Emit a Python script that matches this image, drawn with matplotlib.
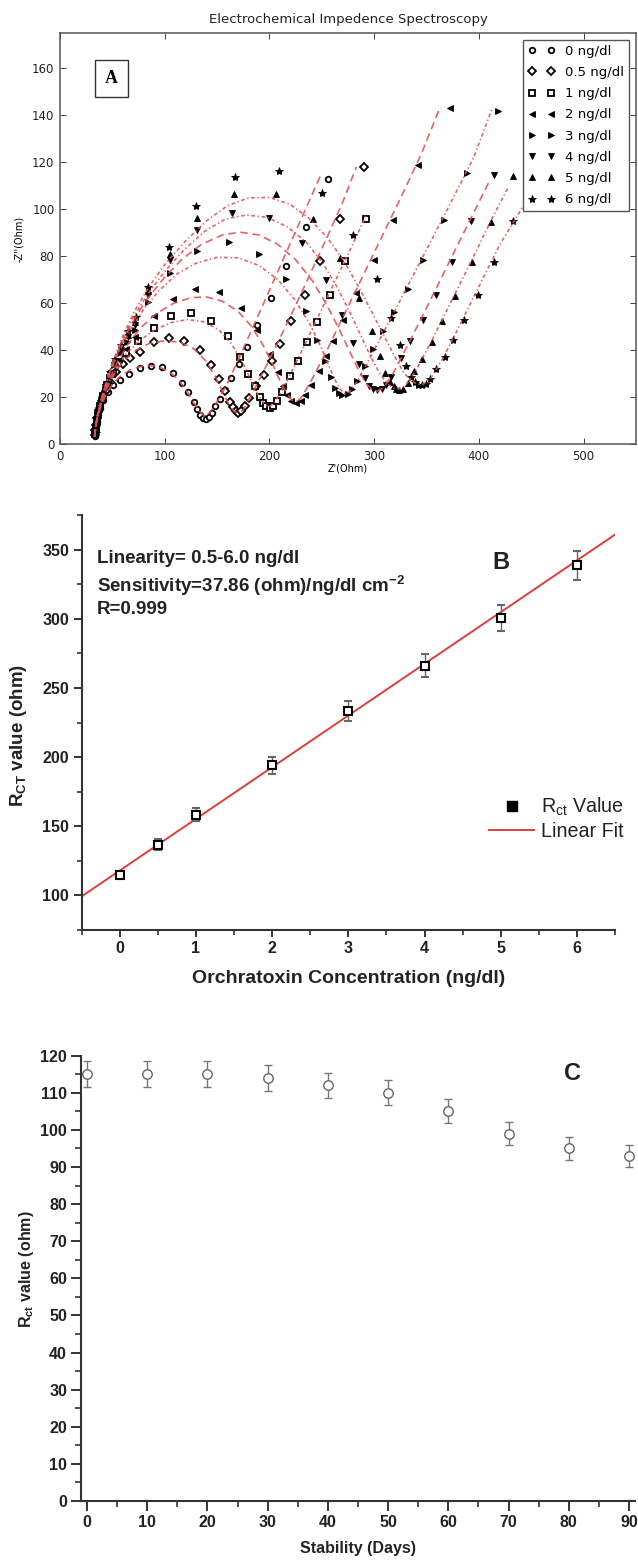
import numpy as np
import matplotlib
matplotlib.use('Agg')
import matplotlib.pyplot as plt
from matplotlib.lines import Line2D
from matplotlib.ticker import MultipleLocator

plt.rcParams['mathtext.fontset'] = 'custom'
plt.rcParams['mathtext.rm'] = 'Liberation Sans'
plt.rcParams['mathtext.bf'] = 'Liberation Sans:bold'
plt.rcParams['mathtext.it'] = 'Liberation Sans:italic'

# ---------------- Panel A data (Nyquist) ----------------
labels_A = ['0 ng/dl', '0.5 ng/dl', '1 ng/dl', '2 ng/dl', '3 ng/dl', '4 ng/dl', '5 ng/dl', '6 ng/dl']

zre_0 = [33.2, 33.6, 34.2, 35.2, 36.6, 38.6, 41.5, 45.5, 50.5, 57, 66, 76, 86.5, 97.5, 107.5, 116.5, 122.5, 128, 131, 134,
         136.8, 139.5, 142.3, 145, 148.2, 153, 158, 163.5, 171, 179, 188.5, 201, 216, 235, 256]
zim_0 = [3.5, 5.2, 7.2, 9.5, 12.2, 15.2, 18.6, 22, 25.3, 27.3, 29.8, 32.2, 33.4, 32.6, 30.1, 26, 22, 17.8, 14.8, 12.5,
         11.1, 10.8, 11.6, 13.3, 16, 19.3, 23, 28.2, 34, 41.5, 50.5, 62, 76, 92.5, 112.8]

zre_05 = [33.3, 33.8, 34.6, 35.8, 37.5, 40, 43.5, 48, 53.5, 60, 67, 76, 90, 104, 118.5, 134, 144, 152, 157.5, 162,
          165, 167.6, 170.3, 173.3, 176.2, 180.5, 187, 195, 202, 210.5, 221, 233.5, 248, 267, 290]
zim_05 = [3.8, 5.8, 8.2, 11, 14.5, 18.3, 22.5, 26.5, 30.5, 34, 36.5, 39, 43.4, 45, 44, 40, 33.6, 27.6, 22.5, 18,
          15.7, 14, 13.3, 14, 16, 19.5, 24.5, 29.5, 35.5, 42.5, 52.3, 63.6, 78, 95.8, 118]

zre_1 = [33.4, 34.0, 34.9, 36.2, 38.2, 41.0, 44.8, 49.5, 55.5, 63.0, 74.3, 89.6, 105.6, 125.4, 144.2, 160.1, 171.6, 179.9,
         186.0, 191.0, 194.0, 197.0, 200.3, 203.5, 207.0, 212.0, 220.0, 227.4, 236.0, 245.6, 257.9, 272.0, 292.0]
zim_1 = [4.1, 6.5, 9.2, 12.4, 16.2, 20.5, 25.3, 30.0, 34.5, 38.8, 43.9, 49.6, 54.4, 55.8, 52.3, 45.9, 37.1, 30.0,
         24.5, 20.0, 17.5, 16.0, 15.4, 16.2, 18.3, 22.0, 28.9, 35.3, 43.3, 51.9, 63.6, 77.8, 95.8]

zre_2 = [33.5, 34.1, 35.0, 36.4, 38.5, 41.5, 45.5, 50.5, 56.5, 63.0, 72.0, 89.3, 107.8, 128.5, 151.5, 172.6, 188.5, 200.6,
         207.7, 213.0, 217.0, 221.0, 224.9, 229.7, 234.4, 240.0, 247.0, 254.0, 261.0, 270.0, 283.0, 299.4, 317.9, 341.8, 372.6]
zim_2 = [4.3, 6.8, 9.7, 13.0, 17.0, 21.5, 26.3, 31.0, 35.8, 40.3, 45.5, 54.6, 61.9, 65.8, 64.8, 58.1, 48.5, 38.5,
         30.5, 24.5, 20.8, 18.3, 17.3, 18.2, 20.8, 25.2, 31.0, 37.5, 44.0, 53.0, 64.5, 78.2, 95.5, 118.8, 143.1]

zre_3 = [33.6, 34.3, 35.4, 37.0, 39.3, 42.5, 46.5, 51.5, 57.0, 63.5, 72.0, 84.5, 105.3, 131.0, 161.0, 190.4, 216.0, 235.0,
         245.6, 253.0, 258.5, 263.0, 266.5, 269.7, 275.4, 279.2, 284.0, 291.0, 299.0, 308.0, 319.0, 332.0, 346.6, 366.3,
         388.6, 418.2]
zim_3 = [4.5, 7.2, 10.4, 14.2, 18.6, 23.4, 28.5, 33.8, 38.8, 43.5, 48.5, 60.5, 72.6, 82.2, 85.9, 81.1, 70.4, 56.7,
         44.2, 35.5, 28.5, 23.8, 21.6, 20.9, 21.5, 23.3, 27.0, 33.0, 40.5, 48.0, 56.0, 66.0, 78.5, 95.5, 115.3, 141.7]

zre_4 = [33.7, 34.4, 35.6, 37.3, 39.8, 43.1, 47.3, 52.3, 58.3, 65.0, 72.0, 84.5, 105.4, 130.8, 164.3, 199.7, 230.7, 254.0,
         269.0, 279.5, 285.9, 291.0, 295.5, 299.0, 302.6, 307.0, 311.0, 316.0, 325.8, 334.4, 346.2, 358.9, 374.2, 392.7, 414.0]
zim_4 = [4.6, 7.5, 10.8, 14.8, 19.4, 24.3, 29.4, 34.6, 40.0, 45.5, 50.5, 63.5, 78.2, 91.3, 98.4, 96.4, 85.6, 69.8,
         55.0, 43.1, 33.9, 28.0, 24.8, 23.3, 22.9, 23.3, 25.0, 28.5, 36.8, 43.8, 53.0, 63.6, 77.5, 95.0, 114.6]

zre_5 = [33.8, 34.5, 35.7, 37.4, 40.0, 43.3, 47.5, 52.5, 58.5, 65.0, 72.0, 84.0, 105.4, 130.8, 166.5, 206.0, 241.5, 267.6,
         285.9, 297.7, 305.7, 310.5, 315.0, 318.5, 321.0, 324.0, 327.5, 332.0, 338.3, 346.0, 354.9, 365.1, 377.2, 393.1,
         411.6, 432.4]
zim_5 = [4.7, 7.7, 11.1, 15.1, 19.8, 24.8, 30.0, 35.3, 40.8, 46.5, 52.0, 65.0, 81.0, 96.2, 106.3, 106.3, 96.0, 79.2,
         62.2, 48.1, 37.5, 30.4, 26.5, 24.5, 23.6, 23.1, 23.6, 25.8, 31.1, 36.4, 43.4, 52.3, 63.2, 77.5, 94.5, 114.3]

zre_6 = [33.9, 34.6, 35.8, 37.6, 40.2, 43.5, 47.7, 52.7, 58.7, 65.3, 72.3, 84.0, 103.8, 129.8, 167.1, 209.0, 249.8, 280.2,
         302.6, 316.2, 324.5, 330.0, 335.0, 338.5, 342.0, 345.5, 349.5, 353.5, 359.2, 367.2, 375.7, 386.0, 399.0, 414.0, 432.4]
zim_6 = [4.8, 7.9, 11.4, 15.5, 20.2, 25.3, 30.7, 36.2, 42.0, 48.0, 54.0, 67.0, 84.0, 101.2, 113.8, 116.2, 106.9, 89.1,
         70.3, 53.7, 42.0, 33.2, 28.5, 26.3, 25.3, 25.0, 25.5, 27.5, 31.8, 37.0, 44.1, 53.0, 63.6, 77.5, 94.8]

# fitted curves
fit_x_0 = [33.0, 34.0, 36.0, 39.0, 44.0, 50.0, 58.0, 68.0, 80.0, 92.0, 103.0, 113.0, 121.0, 128.0, 134.0, 139.0, 145.0,
           152.0, 160.0, 175.0, 190.0, 205.0, 220.0, 235.0, 250.0]
fit_y_0 = [3.0, 7.0, 11.5, 16.0, 21.0, 25.5, 29.0, 31.8, 33.3, 33.2, 31.2, 27.5, 22.5, 17.5, 13.5, 11.5, 14.5,
           19.5, 26.0, 40.5, 55.5, 70.5, 85.5, 100.5, 115.5]
fit_x_05 = [33.0, 34.0, 36.0, 39.5, 45.0, 52.0, 61.0, 72.0, 85.0, 100.0, 115.0, 128.0, 139.0, 148.0, 155.0, 161.0, 166.0,
            170.0, 175.0, 183.0, 195.0, 210.0, 225.0, 240.0, 255.0, 270.0, 283.0]
fit_y_05 = [3.0, 7.5, 12.0, 17.5, 24.0, 30.0, 35.5, 39.8, 42.8, 44.0, 43.3, 40.5, 35.5, 29.0, 22.5, 17.0, 14.0,
            13.0, 14.5, 21.0, 31.5, 45.0, 59.0, 73.5, 88.0, 103.0, 118.0]
fit_x_1 = [33.0, 34.0, 36.2, 40.0, 46.0, 54.0, 64.0, 76.0, 90.0, 106.0, 122.0, 138.0, 152.0, 164.0, 174.0, 182.0, 189.0,
           195.0, 199.0, 204.0, 212.0, 222.0, 235.0, 250.0, 265.0, 280.0, 292.0]
fit_y_1 = [3.0, 7.5, 12.3, 18.5, 25.5, 32.5, 38.8, 44.0, 48.5, 51.7, 53.0, 52.0, 48.5, 42.5, 35.0, 27.5, 21.0,
           17.0, 15.8, 17.0, 23.0, 31.5, 43.5, 57.5, 71.5, 85.5, 97.0]
fit_x_2 = [33.0, 34.2, 36.5, 40.5, 47.0, 55.0, 65.0, 77.0, 92.0, 108.0, 125.0, 140.0, 155.0, 170.0, 183.0, 194.0, 203.0,
           210.0, 216.0, 221.0, 225.0, 230.0, 240.0, 255.0, 275.0, 300.0, 325.0, 345.0, 362.9]
fit_y_2 = [3.0, 8.0, 13.0, 19.5, 27.5, 35.0, 42.5, 49.5, 55.5, 59.8, 62.3, 62.6, 60.8, 56.5, 50.0, 42.0, 34.0,
           27.0, 22.0, 18.8, 17.8, 19.5, 27.0, 40.0, 58.5, 81.5, 104.5, 123.5, 143.3]
fit_x_3 = [33.0, 34.3, 36.8, 41.0, 47.5, 56.0, 67.0, 80.0, 95.0, 112.0, 130.0, 150.0, 170.0, 190.0, 208.0, 224.0, 238.0,
           249.0, 257.0, 263.0, 268.0, 272.0, 277.0, 285.0, 300.0, 320.0, 345.0, 370.0, 395.0, 412.3]
fit_y_3 = [3.0, 8.3, 14.0, 21.0, 30.0, 39.0, 48.5, 57.5, 65.5, 72.5, 77.0, 79.5, 79.3, 76.0, 70.0, 61.5, 51.5,
           41.5, 33.0, 27.0, 23.0, 21.5, 22.5, 27.5, 40.0, 57.0, 78.5, 100.0, 122.0, 142.4]
fit_x_4 = [33.0, 34.4, 37.0, 41.5, 48.0, 57.0, 68.0, 82.0, 98.0, 116.0, 135.0, 155.0, 172.0, 190.0, 208.0, 225.0, 241.0,
           255.0, 267.0, 277.0, 285.0, 292.0, 298.0, 303.0, 309.0, 318.0, 332.0, 350.0, 370.0, 390.0, 409.0]
fit_y_4 = [3.0, 8.6, 14.5, 22.0, 31.0, 41.0, 51.0, 61.0, 70.0, 78.5, 85.0, 89.0, 90.2, 89.0, 85.0, 78.5, 69.5,
           59.0, 48.5, 39.0, 31.5, 26.0, 23.0, 22.5, 24.0, 30.0, 42.0, 58.0, 76.0, 94.0, 111.0]
fit_x_5 = [33.0, 34.5, 37.2, 42.0, 48.8, 58.0, 70.0, 84.0, 100.0, 118.0, 138.0, 158.0, 178.0, 198.0, 217.0, 235.0, 251.0,
           265.0, 278.0, 289.0, 298.0, 306.0, 313.0, 319.0, 325.0, 331.0, 340.0, 355.0, 375.0, 395.0, 412.0, 428.3]
fit_y_5 = [3.0, 8.8, 15.0, 23.0, 32.5, 43.0, 54.0, 64.0, 73.5, 82.5, 90.5, 95.8, 97.5, 96.5, 92.5, 86.0, 77.0,
           66.5, 55.0, 44.5, 36.0, 29.5, 25.5, 23.7, 23.5, 25.5, 31.5, 44.0, 62.0, 80.0, 95.5, 109.6]
fit_x_6 = [33.0, 34.6, 37.4, 42.4, 49.5, 59.0, 71.0, 85.0, 101.0, 120.0, 140.0, 160.0, 180.0, 200.0, 220.0, 238.0, 255.0,
           271.0, 285.0, 298.0, 310.0, 320.0, 328.0, 335.0, 341.0, 347.0, 354.0, 365.0, 380.0, 400.0, 420.0, 442.0]
fit_y_6 = [3.0, 9.0, 15.4, 23.8, 33.8, 45.0, 56.5, 67.0, 77.0, 86.5, 95.0, 101.5, 104.8, 105.0, 102.0, 96.0, 88.0,
           78.0, 67.0, 56.0, 45.5, 37.0, 30.5, 27.0, 25.5, 25.5, 28.0, 36.0, 49.0, 67.0, 85.0, 101.0]

# ---------------- Panel B data ----------------
conc = [0, 0.5, 1, 2, 3, 4, 5, 6]
rct_B = [114.5, 136.8, 158.3, 194.0, 233.5, 266.1, 300.5, 338.7]
rct_B_err = [2.5, 3.9, 4.8, 6.3, 7.4, 8.3, 9.2, 10.5]
fit_slope_B = 37.36
fit_intercept_B = 118.0
text_B = ['Linearity= 0.5-6.0 ng/dl',
          r'Sensitivity=37.86 (ohm)/ng/dl cm$^{\mathbf{-2}}$',
          'R=0.999']

# ---------------- Panel C data ----------------
days = [0, 10, 20, 30, 40, 50, 60, 70, 80, 90]
rct_C = [115, 115, 115, 114, 112, 110, 105, 99, 95, 93]
rct_C_err = [3.5, 3.5, 3.5, 3.5, 3.45, 3.4, 3.2, 3.1, 3.0, 2.9]

# ======================================================
W, H = 638, 1562
fig = plt.figure(figsize=(W / 100, H / 100), dpi=100)


def ax_rect(l, t, r, b):
    return [l / W, 1 - b / H, (r - l) / W, (b - t) / H]


# ---------------- Panel A ----------------
axA = fig.add_axes(ax_rect(60, 33, 636, 444))
series = [
    (zre_0, zim_0, 'o', False, fit_x_0, fit_y_0, 'dash'),
    (zre_05, zim_05, 'D', False, fit_x_05, fit_y_05, 'dash'),
    (zre_1, zim_1, 's', False, fit_x_1, fit_y_1, 'dashdot'),
    (zre_2, zim_2, '<', True, fit_x_2, fit_y_2, 'dash'),
    (zre_3, zim_3, '>', True, fit_x_3, fit_y_3, 'dashdot'),
    (zre_4, zim_4, 'v', True, fit_x_4, fit_y_4, 'dash'),
    (zre_5, zim_5, '^', True, fit_x_5, fit_y_5, 'dashdot'),
    (zre_6, zim_6, '*', True, fit_x_6, fit_y_6, 'dashdot'),
]
red = '#e25252'
for (zx, zy, mk, filled, fx, fy, ls), lab in zip(series, labels_A):
    ms = 4.0
    if mk == 'D':
        ms = 3.6
    if mk == '*':
        ms = 6.0
    if filled:
        axA.plot(zx, zy, linestyle='none', marker=mk, markersize=ms, color='black',
                 markeredgecolor='black', markeredgewidth=0.6, label=lab, zorder=2)
    else:
        axA.plot(zx, zy, linestyle='none', marker=mk, markersize=ms, markerfacecolor='white',
                 markeredgecolor='black', markeredgewidth=1.3, label=lab, zorder=2)
    line, = axA.plot(fx, fy, color=red, lw=1.2, alpha=0.9, zorder=3)
    if ls == 'dash':
        line.set_dashes([4.5, 2.8])
    else:
        line.set_dashes([2.2, 1.6, 0.8, 1.6])

axA.set_xlim(0, 550)
axA.set_ylim(0, 175)
axA.set_xticks([0, 100, 200, 300, 400, 500])
axA.set_yticks([0, 20, 40, 60, 80, 100, 120, 140, 160])
axA.tick_params(direction='in', top=True, right=True, length=4, width=0.6,
                labelsize=8.5, colors='#222222', pad=4)
for sp in axA.spines.values():
    sp.set_color('#555555')
    sp.set_linewidth(1.1)
axA.set_title('Electrochemical Impedence Spectroscopy', fontsize=9.5, color='#222222', pad=7)
axA.set_xlabel("Z'(Ohm)", fontsize=7, labelpad=1)
axA.set_ylabel("-Z''(Ohm)", fontsize=7, labelpad=6)
leg = axA.legend(loc='upper right', numpoints=2, fontsize=9.5, fancybox=False,
                 framealpha=1, edgecolor='#555555', borderaxespad=0.5, labelspacing=0.62)
leg.get_frame().set_linewidth(1.0)
axA.text(49, 155.5, 'A', fontsize=13, fontweight='bold', family='Liberation Serif',
         ha='center', va='center',
         bbox=dict(boxstyle='square,pad=0.55', facecolor='white', edgecolor='#333333', linewidth=1.0))

# ---------------- Panel B ----------------
sans = 'Liberation Sans'
axB = fig.add_axes(ax_rect(81.7, 515, 615, 930))
xfit = np.array([-0.5, 6.5])
axB.plot(xfit, fit_intercept_B + fit_slope_B * xfit, color='#e03c3c', lw=1.4, zorder=2)
axB.errorbar(conc, rct_B, yerr=rct_B_err, fmt='s', markersize=5.2, markerfacecolor='white',
             markeredgecolor='black', markeredgewidth=1.5, ecolor='#666666', elinewidth=1.0,
             capsize=3, capthick=1.0, zorder=3)
axB.set_xlim(-0.5, 6.5)
axB.set_ylim(75, 375)
axB.xaxis.set_major_locator(MultipleLocator(1))
axB.xaxis.set_minor_locator(MultipleLocator(0.5))
axB.yaxis.set_major_locator(MultipleLocator(50))
axB.yaxis.set_minor_locator(MultipleLocator(25))
axB.set_yticks([100, 150, 200, 250, 300, 350])
axB.spines['top'].set_visible(False)
axB.spines['right'].set_visible(False)
for sp in ['left', 'bottom']:
    axB.spines[sp].set_linewidth(1.5)
    axB.spines[sp].set_color('#333333')
axB.tick_params(which='major', direction='out', length=6, width=1.4, color='#333333', pad=3)
axB.tick_params(which='minor', direction='out', length=3.5, width=1.2, color='#333333')
axB.tick_params(axis='x', which='major', length=5)
for lb in axB.get_xticklabels() + axB.get_yticklabels():
    lb.set_fontfamily(sans)
    lb.set_fontweight('bold')
    lb.set_fontsize(11.5)
    lb.set_color('#222222')
axB.set_xlabel('Orchratoxin Concentration (ng/dl)', fontsize=14, fontweight='bold', family=sans, color='#222222')
axB.set_ylabel(r'R$_{\mathbf{CT}}$ value (ohm)', fontsize=13.5, fontweight='bold', family=sans, color='#222222')
axB.xaxis.set_label_coords(0.5, -0.096)
axB.yaxis.set_label_coords(-0.099, 0.47)
for i, (t, yv) in enumerate(zip(text_B, [343.5, 324.0, 306.6])):
    axB.text(-0.305, yv, t, fontsize=13.5, fontweight='bold', family=sans, color='#222222',
             ha='left', va='center')
axB.text(5.0, 341, 'B', fontsize=17, fontweight='bold', family=sans, color='#222222',
         ha='center', va='center')
hB = [Line2D([], [], linestyle='none', marker='s', markersize=7, color='black'),
      Line2D([], [], color='#e03c3c', lw=1.4)]
legB = axB.legend(hB, [r'R$_{\mathrm{ct}}$ Value', 'Linear Fit'], loc='center left',
                  bbox_to_anchor=(0.745, 0.268), frameon=False, borderpad=0,
                  prop={'family': sans, 'size': 14.2}, handlelength=2.3,
                  handletextpad=0.33, labelspacing=0.2)
for t in legB.get_texts():
    t.set_color('#222222')

# ---------------- Panel C ----------------
axC = fig.add_axes(ax_rect(81, 1055.7, 635, 1501))
axC.errorbar(days, rct_C, yerr=rct_C_err, fmt='o', markersize=6.8, markerfacecolor='white',
             markeredgecolor='#666666', markeredgewidth=1.0, ecolor='#777777', elinewidth=1.0,
             capsize=3, capthick=1.0, clip_on=False, zorder=3)
axC.set_xlim(-1, 91)
axC.set_ylim(0, 120)
axC.xaxis.set_major_locator(MultipleLocator(10))
axC.xaxis.set_minor_locator(MultipleLocator(5))
axC.yaxis.set_major_locator(MultipleLocator(10))
axC.yaxis.set_minor_locator(MultipleLocator(5))
axC.spines['top'].set_visible(False)
axC.spines['right'].set_visible(False)
for sp in ['left', 'bottom']:
    axC.spines[sp].set_linewidth(1.5)
    axC.spines[sp].set_color('#333333')
axC.tick_params(which='major', direction='out', length=7, width=1.4, color='#333333', pad=3)
axC.tick_params(which='minor', direction='out', length=4, width=1.2, color='#333333')
for lb in axC.get_xticklabels() + axC.get_yticklabels():
    lb.set_fontfamily(sans)
    lb.set_fontweight('bold')
    lb.set_fontsize(11.5)
    lb.set_color('#222222')
axC.set_xlabel('Stability (Days)', fontsize=11.5, fontweight='bold', family=sans, color='#222222')
axC.set_ylabel(r'R$_{\mathbf{ct}}$ value (ohm)', fontsize=11.5, fontweight='bold', family=sans, color='#222222')
axC.xaxis.set_label_coords(0.5, -0.09)
axC.yaxis.set_label_coords(-0.081, 0.52)
axC.text(80.7, 115.3, 'C', fontsize=17, fontweight='bold', family=sans, color='#222222',
         ha='center', va='center')

fig.savefig('out.png', dpi=100)
